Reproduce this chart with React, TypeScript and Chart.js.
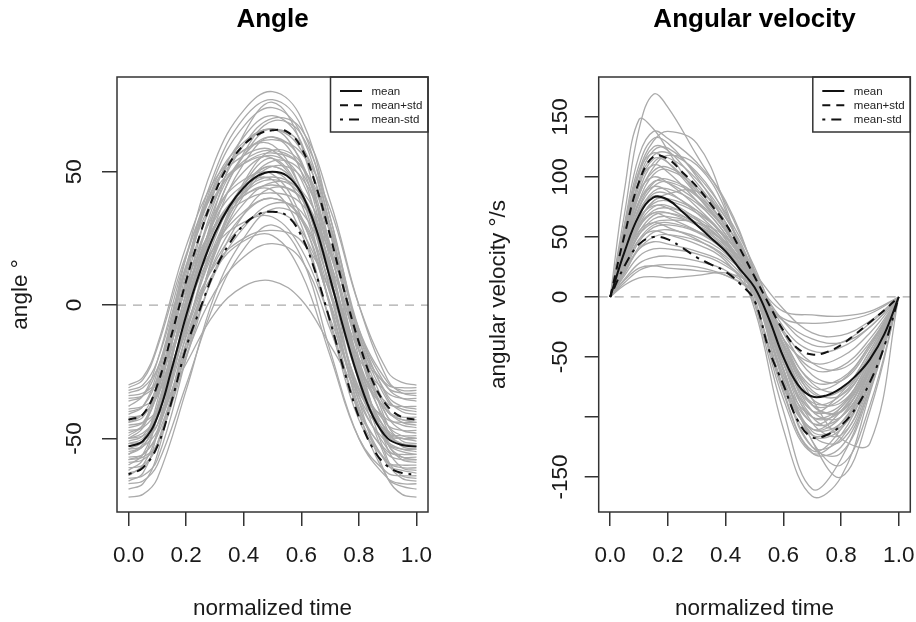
import React, { useEffect, useRef } from "react";
import { Chart, registerables } from "chart.js";

Chart.register(...registerables);

const FONT = '"Liberation Sans", Arial, Helvetica, sans-serif';

// ---------- shared axes ----------
const xTicks = [0, 0.2, 0.4, 0.6, 0.8, 1.0];
const xTickLabels = ["0.0", "0.2", "0.4", "0.6", "0.8", "1.0"];

const meanTimes = [0, 0.05, 0.1, 0.15, 0.2, 0.25, 0.3, 0.35, 0.4, 0.45, 0.5, 0.55, 0.6, 0.65, 0.7, 0.75, 0.8, 0.85, 0.9, 0.95, 1];

// ---------- Angle panel ----------
const angleTicks = [-50, 0, 50];
const angleTickLabels = ["-50", "0", "50"];

const angleMean = [-53, -51, -42, -24, -4, 13, 27, 37, 44, 48.5, 50, 48.5, 42, 29, 10, -10, -28, -42, -50, -52.5, -53];
const anglePlusStd = [-43, -41, -30, -11, 9, 27, 42, 53, 60, 64, 65.5, 65, 59, 45, 26, 5, -14, -29, -38, -42, -43];
const angleMinusStd = [-63.5, -61, -53, -36, -16, -1, 13, 23, 30, 34, 35, 33.5, 26, 12, -6, -25, -42, -54, -60.5, -63, -63.5];

const angleTrialTimes = [0, 0.05, 0.1, 0.2, 0.3, 0.4, 0.5, 0.6, 0.7, 0.8, 0.9, 0.95, 1];
const angleTrials = [
  [-30, -27, -15, 22, 47, 58, 62, 57, 36, 0, -25, -29, -30],
  [-31, -28, -16, 19, 43, 53, 55, 41, 12, -17, -30, -31, -31],
  [-32, -30, -21, 15, 44, 60, 66, 58, 28, -9, -29, -32, -32],
  [-33, -31, -24, 6, 30, 43, 48, 42, 16, -14, -31, -33, -33],
  [-34, -33, -28, 4, 39, 60, 70, 66, 39, 0, -28, -33, -34],
  [-35, -34, -29, -2, 26, 44, 52, 42, 10, -20, -33, -35, -35],
  [-36, -34, -24, 8, 30, 39, 42, 38, 20, -10, -31, -35, -36],
  [-38, -34, -21, 18, 45, 56, 58, 43, 10, -23, -37, -38, -38],
  [-39, -38, -34, -8, 21, 38, 46, 43, 21, -11, -34, -38, -39],
  [-40, -38, -27, 18, 54, 73, 80, 70, 33, -11, -36, -39, -40],
  [-41, -38, -25, 14, 41, 53, 57, 52, 30, -9, -35, -40, -41],
  [-42, -41, -34, -1, 34, 56, 66, 53, 14, -24, -40, -42, -42],
  [-43, -41, -34, -3, 22, 35, 40, 33, 8, -23, -40, -43, -43],
  [-44, -41, -30, 1, 22, 31, 33, 21, -5, -32, -43, -44, -44],
  [-44, -42, -31, 14, 50, 70, 77, 67, 30, -15, -40, -43, -44],
  [-45, -44, -39, -9, 23, 42, 52, 48, 23, -13, -39, -44, -45],
  [-46, -44, -33, 12, 48, 67, 74, 64, 27, -17, -42, -45, -46],
  [-47, -46, -39, -5, 30, 53, 63, 50, 10, -28, -45, -47, -47],
  [-48, -45, -33, 4, 30, 41, 45, 40, 19, -17, -42, -47, -48],
  [-49, -45, -29, 14, 45, 58, 60, 43, 6, -32, -48, -49, -49],
  [-50, -49, -45, -17, 12, 29, 38, 35, 12, -21, -45, -49, -50],
  [-50, -46, -32, 7, 35, 47, 49, 33, 0, -34, -49, -50, -50],
  [-50, -48, -42, -22, -3, 7, 9, 2, -15, -33, -47, -50, -50],
  [-51, -49, -39, 0, 33, 50, 56, 47, 14, -25, -48, -50, -51],
  [-52, -51, -45, -7, 33, 57, 69, 64, 33, -12, -45, -51, -52],
  [-52, -50, -42, -10, 16, 30, 35, 28, 1, -31, -49, -52, -52],
  [-53, -51, -40, -8, 15, 25, 28, 24, 5, -26, -48, -52, -53],
  [-54, -53, -47, -15, 19, 41, 50, 38, 0, -36, -52, -54, -54],
  [-54, -51, -36, 9, 40, 54, 58, 52, 27, -17, -47, -53, -54],
  [-55, -53, -42, 2, 37, 56, 63, 54, 17, -27, -51, -54, -55],
  [-56, -52, -38, 1, 29, 41, 43, 27, -6, -40, -55, -56, -56],
  [-56, -53, -42, 5, 43, 63, 71, 61, 22, -26, -52, -55, -56],
  [-57, -56, -48, -6, 36, 64, 76, 60, 12, -34, -54, -57, -57],
  [-58, -56, -49, -19, 5, 18, 23, 17, -9, -39, -56, -58, -58],
  [-58, -57, -52, -20, 13, 34, 44, 40, 13, -24, -52, -57, -58],
  [-59, -58, -52, -17, 20, 43, 54, 50, 20, -22, -52, -58, -59],
  [-60, -56, -41, 2, 32, 45, 47, 30, -7, -43, -59, -60, -60],
  [-61, -60, -53, -17, 20, 45, 55, 41, -1, -41, -59, -61, -61],
  [-62, -58, -41, 10, 46, 61, 66, 60, 30, -20, -54, -61, -62],
  [-63, -61, -52, -14, 17, 34, 40, 32, 0, -38, -60, -62, -63],
  [-64, -60, -48, -12, 13, 24, 26, 12, -19, -50, -63, -64, -64],
  [-65, -64, -58, -20, 21, 46, 58, 53, 21, -24, -58, -64, -65],
  [-66, -63, -48, -3, 29, 42, 47, 41, 15, -29, -59, -65, -66],
  [-67, -66, -60, -30, 1, 21, 30, 18, -17, -50, -65, -67, -67],
  [-69, -67, -56, -11, 25, 45, 52, 42, 5, -40, -65, -68, -69],
  [-72, -71, -65, -32, 4, 25, 36, 32, 4, -36, -65, -71, -72],
];

// ---------- Angular velocity panel ----------
const velocityTicks = [-150, -100, -50, 0, 50, 100, 150];
const velocityTickLabels = ["-150", "", "-50", "0", "50", "100", "150"];

const velocityMean = [0, 38, 68, 83, 81, 71, 60, 49, 38, 23, 8, -18, -50, -73, -83, -82, -76, -66, -52, -31, 0];
const velocityPlusStd = [0, 52, 96, 117, 115, 104, 92, 77, 61, 40, 17, -6, -28, -43, -48, -46, -40, -31, -21, -11, 0];
const velocityMinusStd = [0, 26, 44, 50, 48, 41, 33, 27, 21, 11, -3, -44, -73, -103, -117, -115, -107, -93, -71, -41, 0];

const velocityTrialTimes = [0, 0.05, 0.1, 0.15, 0.2, 0.3, 0.4, 0.5, 0.6, 0.7, 0.8, 0.9, 1];
const velocityTrials = [
  [0, 70, 140, 169, 158, 118, 78, 22, -55, -105, -92, -52, 0],
  [0, 90, 148, 140, 122, 85, 55, 12, -70, -110, -100, -55, 0],
  [0, 55, 105, 130, 138, 128, 75, 0, -80, -130, -125, -75, 0],
  [0, 62, 118, 138, 132, 112, 80, 20, -60, -115, -110, -65, 0],
  [0, 60, 110, 132, 128, 100, 62, 18, -45, -95, -80, -45, 0],
  [0, 55, 102, 125, 122, 95, 62, 12, -70, -125, -118, -68, 0],
  [0, 50, 98, 122, 124, 102, 70, 25, -35, -75, -70, -40, 0],
  [0, 58, 105, 120, 112, 85, 55, 10, -65, -105, -100, -62, 0],
  [0, 50, 96, 118, 120, 104, 68, 14, -48, -88, -82, -48, 0],
  [0, 48, 92, 115, 112, 88, 58, 10, -55, -95, -90, -52, 0],
  [0, 45, 88, 112, 116, 98, 66, 20, -30, -60, -58, -35, 0],
  [0, 52, 95, 110, 104, 80, 52, 8, -75, -115, -105, -60, 0],
  [0, 44, 85, 105, 108, 92, 62, 16, -40, -80, -78, -45, 0],
  [0, 40, 80, 102, 106, 90, 58, 14, -50, -90, -85, -50, 0],
  [0, 48, 88, 100, 95, 75, 48, -4, -85, -130, -115, -65, 0],
  [0, 40, 78, 96, 95, 80, 55, 12, -35, -55, -50, -30, 0],
  [0, 38, 75, 95, 98, 85, 60, 22, -25, -45, -42, -25, 0],
  [0, 38, 74, 92, 96, 84, 56, 12, -60, -112, -108, -62, 0],
  [0, 42, 80, 92, 88, 70, 45, 5, -65, -100, -92, -55, 0],
  [0, 35, 70, 88, 90, 78, 52, 12, -55, -100, -95, -55, 0],
  [0, 36, 70, 86, 86, 72, 48, 8, -70, -125, -130, -78, 0],
  [0, 40, 72, 84, 80, 65, 42, -10, -110, -166, -150, -80, 0],
  [0, 30, 62, 80, 82, 72, 50, 16, -35, -70, -68, -40, 0],
  [0, 34, 64, 80, 86, 88, 66, 18, -60, -120, -150, -95, 0],
  [0, 33, 64, 78, 80, 70, 50, 14, -42, -90, -96, -58, 0],
  [0, 36, 66, 76, 74, 60, 40, 3, -78, -128, -110, -58, 0],
  [0, 30, 60, 75, 76, 64, 44, 6, -62, -115, -120, -72, 0],
  [0, 28, 58, 72, 74, 66, 46, 14, -40, -85, -88, -52, 0],
  [0, 32, 60, 70, 66, 55, 38, 6, -60, -120, -140, -90, 0],
  [0, 30, 58, 70, 70, 60, 45, 15, -20, -40, -38, -22, 0],
  [0, 27, 54, 68, 70, 62, 44, 12, -38, -78, -82, -50, 0],
  [0, 26, 52, 65, 67, 60, 42, 10, -45, -95, -100, -60, 0],
  [0, 30, 55, 62, 58, 48, 32, 2, -68, -110, -95, -55, 0],
  [0, 28, 52, 62, 64, 62, 50, 20, -10, -30, -32, -20, 0],
  [0, 24, 48, 60, 62, 55, 40, 10, -52, -100, -108, -66, 0],
  [0, 22, 46, 58, 60, 54, 38, 12, -28, -55, -60, -38, 0],
  [0, 25, 48, 55, 52, 44, 30, -6, -75, -110, -105, -65, 0],
  [0, 20, 42, 54, 56, 50, 36, 8, -35, -72, -78, -48, 0],
  [0, 20, 40, 50, 52, 47, 34, 8, -50, -105, -115, -70, 0],
  [0, 22, 40, 46, 44, 38, 28, 4, -40, -85, -118, -122, 0],
  [0, 18, 34, 40, 40, 36, 26, 6, -30, -65, -70, -42, 0],
  [0, 15, 28, 33, 34, 30, 22, 2, -45, -90, -95, -58, 0],
  [0, 12, 22, 26, 27, 25, 18, 4, -20, -35, -38, -25, 0],
  [0, 14, 24, 26, 24, 22, 18, 5, -18, -22, -20, -14, 0],
  [0, 10, 16, 17, 16, 18, 20, 10, -12, -15, -16, -12, 0],
  [0, 45, 85, 108, 118, 110, 72, -5, -95, -160, -135, -75, 0],
];

const legendLabels = ["mean", "mean+std", "mean-std"];

// ---------- styles ----------
const GRAY = "#aaaaaa";
const INK = "#111111";
const FRAME = "#333333";
const DASH_PLUS = [8, 6];
const DASH_MINUS = [3, 6, 10, 6];
const DASH_ZERO = [9, 7];

type PanelSpec = {
  title: string;
  yTitle: string;
  yMin: number;
  yMax: number;
  yTicks: number[];
  yTickLabels: string[];
  trialTimes: number[];
  trials: number[][];
  mean: number[];
  plus: number[];
  minus: number[];
  yAxisWidth: number;
  padRight: number;
  yTickPad: number;
  yTickLen: number;
  yTitlePad: number;
};

const frameLegendPlugin = {
  id: "rFrameLegend",
  afterDatasetsDraw(chart: any) {
    const { ctx, chartArea: a } = chart;
    ctx.save();
    const w = 97.5;
    const h = 55;
    const lx = a.right - w;
    const ly = a.top;
    ctx.fillStyle = "#ffffff";
    ctx.fillRect(lx, ly, w, h);
    ctx.strokeStyle = FRAME;
    ctx.lineWidth = 1.5;
    ctx.setLineDash([]);
    ctx.strokeRect(lx, ly, w, h);
    const dashes = [[], DASH_PLUS, DASH_MINUS];
    const rows = [14, 28.3, 42.5];
    ctx.font = `11.5px ${FONT}`;
    ctx.textBaseline = "middle";
    ctx.textAlign = "left";
    legendLabels.forEach((lab, i) => {
      const y = ly + rows[i];
      ctx.beginPath();
      ctx.setLineDash(dashes[i]);
      ctx.strokeStyle = INK;
      ctx.lineWidth = 2;
      ctx.moveTo(lx + 9.5, y);
      ctx.lineTo(lx + 31.5, y);
      ctx.stroke();
      ctx.setLineDash([]);
      ctx.fillStyle = "#222222";
      ctx.fillText(lab, lx + 41, y + 0.5);
    });
    ctx.setLineDash([]);
    ctx.strokeStyle = FRAME;
    ctx.lineWidth = 1.5;
    ctx.strokeRect(a.left, a.top, a.right - a.left, a.bottom - a.top);
    ctx.restore();
  },
};

function buildConfig(spec: PanelSpec): any {
  const trialSets = spec.trials.map((arr) => ({
    data: spec.trialTimes.map((t, i) => ({ x: t, y: arr[i] })),
    borderColor: GRAY,
    borderWidth: 1.3,
    pointRadius: 0,
    tension: 0.4,
    order: 3,
  }));
  const zeroLine = {
    data: [
      { x: -0.04, y: 0 },
      { x: 1.04, y: 0 },
    ],
    borderColor: GRAY,
    borderWidth: 1.3,
    borderDash: DASH_ZERO,
    pointRadius: 0,
    order: 2,
  };
  const stat = (vals: number[], dash: number[], order: number) => ({
    data: meanTimes.map((t, i) => ({ x: t, y: vals[i] })),
    borderColor: INK,
    borderWidth: 2,
    borderDash: dash,
    pointRadius: 0,
    tension: 0.4,
    order,
  });
  const tickFont = { family: FONT, size: 22.5 };
  return {
    type: "line",
    data: {
      datasets: [
        ...trialSets,
        zeroLine,
        stat(spec.minus, DASH_MINUS, 1),
        stat(spec.plus, DASH_PLUS, 1),
        stat(spec.mean, [], 0),
      ],
    },
    options: {
      animation: false,
      responsive: false,
      devicePixelRatio: 1,
      events: [],
      layout: { padding: { left: 0, right: spec.padRight, top: 0, bottom: 0 } },
      plugins: {
        legend: { display: false },
        tooltip: { enabled: false },
        title: {
          display: true,
          text: spec.title,
          fullSize: false,
          color: "#000000",
          font: { family: FONT, size: 26, weight: "bold", lineHeight: 1.2 },
          padding: { top: 4.7, bottom: 41.1 },
        },
      },
      scales: {
        x: {
          type: "linear",
          min: -0.04,
          max: 1.04,
          afterBuildTicks: (scale: any) => {
            scale.ticks = xTicks.map((v) => ({ value: v }));
          },
          afterFit: (scale: any) => {
            scale.height = 110;
            scale.paddingLeft = 0;
            scale.paddingRight = 0;
          },
          border: { display: false },
          grid: {
            display: true,
            drawOnChartArea: false,
            drawTicks: true,
            tickLength: 14,
            color: FRAME,
            lineWidth: 1.5,
          },
          ticks: {
            autoSkip: false,
            maxRotation: 0,
            minRotation: 0,
            padding: 16,
            color: "#1a1a1a",
            font: tickFont,
            callback: (_v: any, i: number) => xTickLabels[i],
          },
          title: {
            display: true,
            text: "normalized time",
            color: "#1a1a1a",
            font: tickFont,
            padding: { top: 0, bottom: 0 },
          },
        },
        y: {
          type: "linear",
          min: spec.yMin,
          max: spec.yMax,
          afterBuildTicks: (scale: any) => {
            scale.ticks = spec.yTicks.map((v) => ({ value: v }));
          },
          afterFit: (scale: any) => {
            scale.width = spec.yAxisWidth;
            scale.paddingTop = 0;
            scale.paddingBottom = 0;
          },
          border: { display: false },
          grid: {
            display: true,
            drawOnChartArea: false,
            drawTicks: true,
            tickLength: spec.yTickLen,
            color: FRAME,
            lineWidth: 1.5,
          },
          ticks: {
            autoSkip: false,
            minRotation: 90,
            maxRotation: 90,
            crossAlign: "center",
            padding: spec.yTickPad,
            color: "#1a1a1a",
            font: tickFont,
            callback: (_v: any, i: number) => spec.yTickLabels[i],
          },
          title: {
            display: true,
            text: spec.yTitle,
            color: "#1a1a1a",
            font: tickFont,
            padding: { top: spec.yTitlePad, bottom: 0 },
          },
        },
      },
    },
    plugins: [frameLegendPlugin],
  };
}

const anglePanel: PanelSpec = {
  title: "Angle",
  yTitle: "angle \u00b0",
  yMin: -77.6,
  yMax: 85.5,
  yTicks: angleTicks,
  yTickLabels: angleTickLabels,
  trialTimes: angleTrialTimes,
  trials: angleTrials,
  mean: angleMean,
  plus: anglePlusStd,
  minus: angleMinusStd,
  yAxisWidth: 117,
  padRight: 30,
  yTickPad: 10.7,
  yTickLen: 15,
  yTitlePad: 7.4,
};

const velocityPanel: PanelSpec = {
  title: "Angular velocity",
  yTitle: "angular velocity \u00b0/s",
  yMin: -179.2,
  yMax: 183.3,
  yTicks: velocityTicks,
  yTickLabels: velocityTickLabels,
  trialTimes: velocityTrialTimes,
  trials: velocityTrials,
  mean: velocityMean,
  plus: velocityPlusStd,
  minus: velocityMinusStd,
  yAxisWidth: 140.7,
  padRight: 5.7,
  yTickPad: 0.9,
  yTickLen: 14,
  yTitlePad: 27.3,
};

function Panel({ spec, left }: { spec: PanelSpec; left: number }) {
  const ref = useRef<HTMLCanvasElement | null>(null);
  useEffect(() => {
    if (!ref.current) return;
    const chart = new Chart(ref.current, buildConfig(spec));
    return () => chart.destroy();
  }, [spec]);
  return (
    <canvas
      ref={ref}
      width={458}
      height={622}
      style={{ position: "absolute", left, top: 0, width: 458, height: 622 }}
    />
  );
}

export default function App() {
  return (
    <div
      style={{
        position: "fixed",
        left: 0,
        top: 0,
        width: 916,
        height: 622,
        background: "#ffffff",
        overflow: "hidden",
      }}
    >
      <Panel spec={anglePanel} left={0} />
      <Panel spec={velocityPanel} left={458} />
    </div>
  );
}
